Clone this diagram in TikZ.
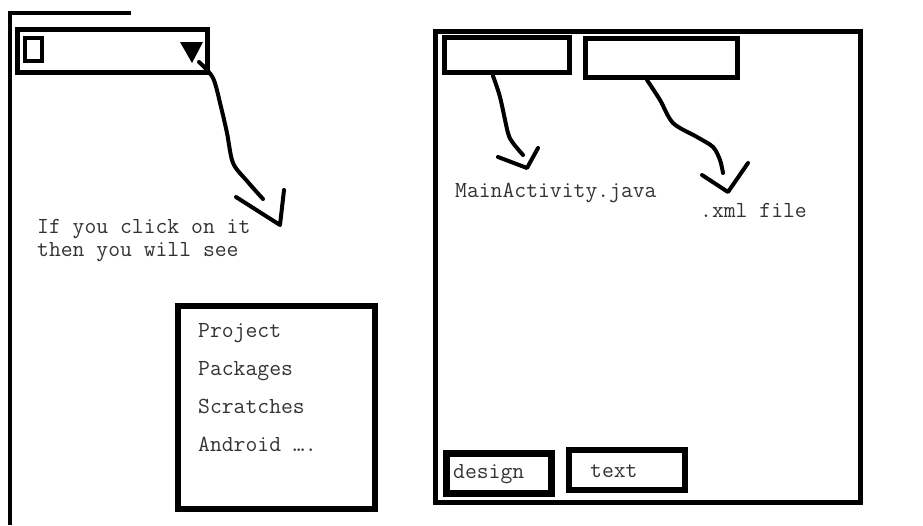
\documentclass[tikz,border=0pt]{standalone}
\usepackage{fontspec}
\usetikzlibrary{positioning}

\tikzset{
  box/.style={draw,rectangle,line width=5pt,inner sep=0pt},
  note/.style={font=\ttfamily\fontsize{23}{27}\selectfont,text=black!80,inner sep=0pt,anchor=base west},
  scribble/.style={line width=4pt,line cap=round,line join=round},
}

\begin{document}
\begin{tikzpicture}[x=1pt,y=-1pt]
  \useasboundingbox (0,0) rectangle (923,525);
  % left window
  \coordinate (corner) at (10,13);
  \draw[line width=4pt] (131,13) -- (corner) -- (10,525);
  \node[box,minimum width=190pt,minimum height=43pt] (drop) at (112.5,51) {};
  \node[box,line width=4pt,minimum width=17pt,minimum height=23pt] (icon) at (33,49) {};
  \fill (180,42) -- (203,42) -- (192,63) -- cycle;
  \coordinate (dropend) at (263,199);
  \coordinate (droptip) at (280,225);
  \draw[scribble] plot[smooth] coordinates {(199,62) (213,78) (221,107) (227,133) (233,163) (247,181) (dropend)};
  \draw[scribble] (droptip) ++(-44,-28) -- (droptip) -- ++(4,-35);
  \node[note] (hint1) at (37,233) {If you click on it};
  \node[note] (hint2) at (37,256) {then you will see};
  % menu
  \node[box,line width=6pt,minimum width=197pt,minimum height=203pt] (menu) at (276.5,407.5) {};
  \node[note] (project) at (198,337) {Project};
  \node[note] (packages) at (198,375) {Packages};
  \node[note] (scratches) at (198,413) {Scratches};
  \node[note] (android) at (198,451) {Android ….};
  % editor window
  \node[box,minimum width=425pt,minimum height=471pt] (editor) at (647.5,266.5) {};
  \node[box,minimum width=125pt,minimum height=35pt] (tabA) at (507,55) {};
  \node[box,minimum width=152pt,minimum height=39pt] (tabB) at (661.5,58) {};
  \coordinate (javatip) at (527,168);
  \draw[scribble] plot[smooth] coordinates {(493,76) (500,97) (508,133) (513,143) (523,155)};
  \draw[scribble] (javatip) ++(-29,-11) -- (javatip) -- ++(11,-20);
  \node[note] (java) at (455,197) {MainActivity.java};
  \coordinate (xmltip) at (728,192);
  \draw[scribble] plot[smooth] coordinates {(647,80) (660,100) (673,123) (697,137) (713,147) (720,160) (723,173)};
  \draw[scribble] (xmltip) ++(-26,-17) -- (xmltip) -- ++(20,-29);
  \node[note] (xml) at (700,217) {.xml file};
  \node[box,line width=7pt,minimum width=105pt,minimum height=40pt] (design) at (498.5,473) {};
  \node[box,line width=6pt,minimum width=116pt,minimum height=40pt] (textbox) at (627,470) {};
  \node[note] (designlbl) at (453,478) {design};
  \node[note] (textlbl) at (590,477) {text};
\end{tikzpicture}
\end{document}
